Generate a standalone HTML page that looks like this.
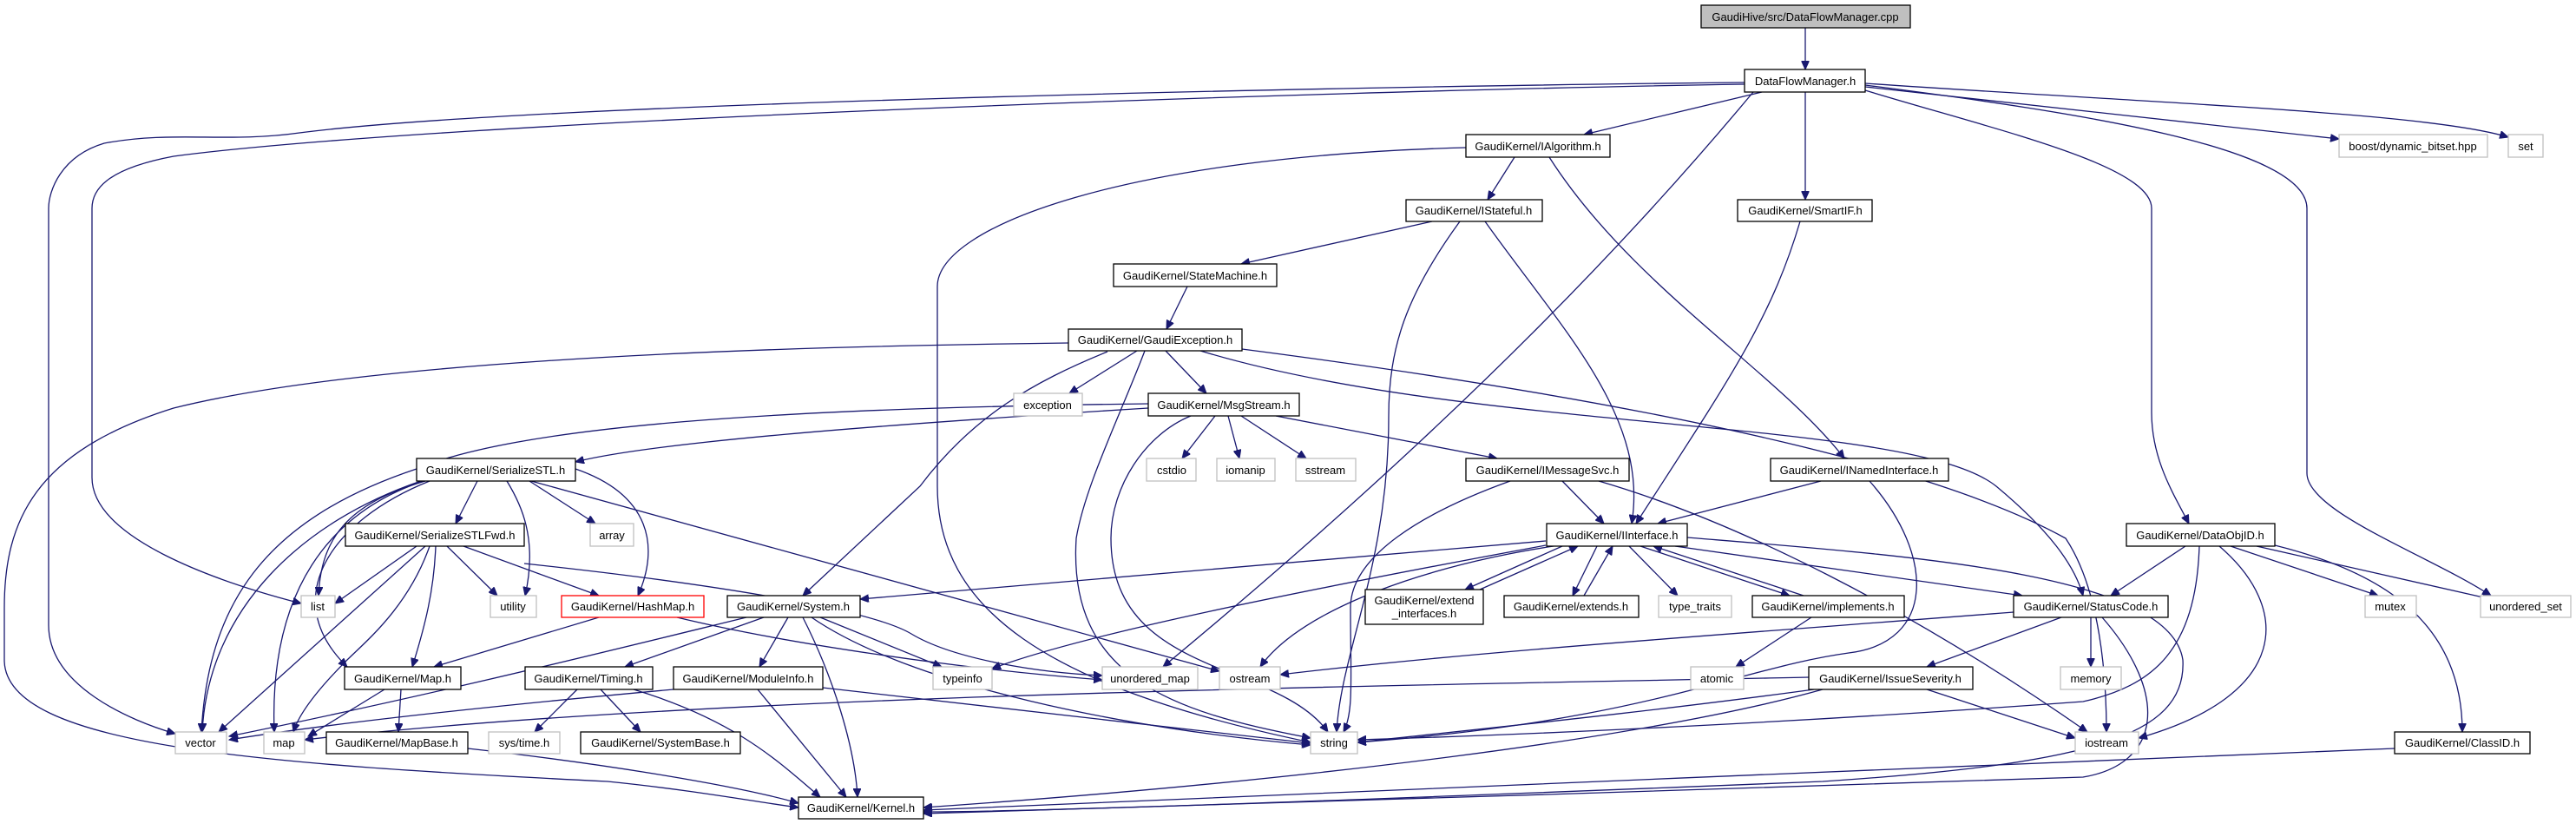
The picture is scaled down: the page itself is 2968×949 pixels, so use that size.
<!DOCTYPE html>
<html><head><meta charset="utf-8"><style>
html,body{margin:0;padding:0;background:#fff;}
svg{display:block;}
text{font-family:"Liberation Sans",Arial,sans-serif;font-size:13px;fill:#000;}
.n{fill:#fff;stroke:#000;stroke-width:1.3;}
.x{fill:#fff;stroke:#bfbfbf;stroke-width:1.3;}
.e path{fill:none;stroke:#191970;stroke-width:1.3;marker-end:url(#a);}
</style></head><body>
<svg width="2968" height="949" viewBox="0 0 2968 949" xmlns="http://www.w3.org/2000/svg">
<defs><marker id="a" markerUnits="userSpaceOnUse" markerWidth="11" markerHeight="9" refX="10" refY="4.5" orient="auto"><path d="M0,0 L10,4.5 L0,9 z" fill="#191970" stroke="#191970"/></marker></defs>
<g class="e">
<path d="M2080,32 L2080,80"/>
<path d="M2030,106 L1825,155"/>
<path d="M2080,106 L2080,230"/>
<path d="M2149,104 C2300,150 2479,190 2479,240 L2479,475 C2479,530 2505,570 2522,603"/>
<path d="M2149,100 L2695,160"/>
<path d="M2149,96 C2500,120 2800,130 2890,158"/>
<path d="M2149,98 C2400,130 2658,170 2658,240 L2658,545 C2658,590 2800,640 2870,686"/>
<path d="M2020,106 C1900,250 1700,470 1340,768"/>
<path d="M2010,95 C1500,100 600,120 345,153 C260,165 200,150 120,165 C70,180 56,220 56,240 L56,720 C56,790 150,830 202,845"/>
<path d="M2010,97 C1500,105 500,140 200,180 C120,195 106,220 106,240 L106,550 C106,620 250,670 347,695"/>
<path d="M1745,181 L1714,230"/>
<path d="M1785,181 C1880,330 2050,430 2125,528"/>
<path d="M1689,170 C1300,180 1080,260 1080,330 L1080,560 C1080,700 1200,790 1510,855"/>
<path d="M1711,255 C1800,380 1900,480 1880,603"/>
<path d="M2074,255 C2040,370 1990,440 1885,603"/>
<path d="M1650,255 L1430,304"/>
<path d="M1682,255 C1620,340 1600,400 1600,480 C1600,650 1545,750 1540,843"/>
<path d="M1368,330 L1344,379"/>
<path d="M1310,404 L1232,453"/>
<path d="M1343,404 L1390,453"/>
<path d="M1276,405 C1190,440 1120,480 1060,560 L925,686"/>
<path d="M1383,404 C1700,500 2200,480 2300,560 C2360,610 2390,650 2400,686"/>
<path d="M1431,402 C1800,450 2200,520 2380,620 C2420,680 2427,780 2427,843"/>
<path d="M1319,404 C1290,480 1250,560 1240,620 C1230,780 1350,820 1510,850"/>
<path d="M1231,395 C800,400 400,420 200,470 C40,520 5,600 5,700 L5,760 C5,860 300,880 700,900 C800,910 880,925 920,930"/>
<path d="M1323,470 C1000,490 750,510 663,532"/>
<path d="M1400,479 L1362,528"/>
<path d="M1415,479 L1428,528"/>
<path d="M1430,479 L1505,528"/>
<path d="M1470,479 L1725,528"/>
<path d="M1372,479 C1320,500 1280,560 1280,620 C1280,780 1470,760 1530,843"/>
<path d="M1323,465 C900,470 600,490 480,540 C300,600 240,700 232,843"/>
<path d="M1800,554 L1848,603"/>
<path d="M1740,554 C1640,590 1556,640 1556,700 C1556,780 1560,820 1548,843"/>
<path d="M1842,554 C2000,600 2200,700 2405,843"/>
<path d="M2098,554 L1910,603"/>
<path d="M2154,554 C2230,640 2230,740 2130,752 C2000,770 1900,830 1564,855"/>
<path d="M1781,623 L991,690"/>
<path d="M1781,628 C1500,680 1250,730 1143,770"/>
<path d="M1790,629 C1650,650 1500,700 1452,768"/>
<path d="M1800,629 L1688,679"/>
<path d="M1705,679 L1818,629"/>
<path d="M1840,629 L1812,686"/>
<path d="M1825,686 L1858,629"/>
<path d="M1877,629 L1933,686"/>
<path d="M1890,629 L2062,686"/>
<path d="M2078,686 L1905,629"/>
<path d="M1930,629 L2330,686"/>
<path d="M1944,619 C2200,640 2500,660 2515,760 C2520,850 2400,880 2100,900 C1600,920 1200,935 1064,935"/>
<path d="M550,554 L525,603"/>
<path d="M610,554 L686,603"/>
<path d="M663,540 C750,570 760,630 735,686"/>
<path d="M612,554 L1405,773"/>
<path d="M584,554 C600,580 620,620 605,686"/>
<path d="M490,554 C400,580 370,620 367,686"/>
<path d="M485,554 C350,600 240,700 233,843"/>
<path d="M488,554 C380,590 310,680 316,843"/>
<path d="M495,554 C380,600 320,690 400,768"/>
<path d="M480,629 L386,695"/>
<path d="M515,629 L573,686"/>
<path d="M490,629 L252,843"/>
<path d="M495,629 C470,700 420,740 400,760 C370,790 345,820 338,843"/>
<path d="M502,629 C500,680 490,720 475,768"/>
<path d="M534,629 L690,686"/>
<path d="M604,649 C800,670 1000,700 1050,730 C1100,760 1200,775 1270,778"/>
<path d="M690,711 L500,768"/>
<path d="M780,711 C900,740 1100,770 1270,783"/>
<path d="M443,794 L355,848"/>
<path d="M462,794 L459,843"/>
<path d="M539,862 C700,880 850,905 920,925"/>
<path d="M880,711 L720,768"/>
<path d="M908,711 L875,768"/>
<path d="M945,711 L1085,768"/>
<path d="M935,711 C1050,790 1300,840 1510,858"/>
<path d="M925,711 C960,780 985,860 988,918"/>
<path d="M860,711 C700,750 500,800 264,848"/>
<path d="M665,794 L616,843"/>
<path d="M692,794 L738,843"/>
<path d="M730,794 C850,830 900,880 945,918"/>
<path d="M948,792 C1200,820 1400,845 1510,856"/>
<path d="M873,794 L975,918"/>
<path d="M776,794 C600,810 400,830 264,852"/>
<path d="M2375,711 L2220,768"/>
<path d="M2409,711 L2409,768"/>
<path d="M2320,705 C2000,730 1700,750 1475,777"/>
<path d="M2422,711 C2500,800 2490,880 2400,895 C2000,910 1400,925 1064,937"/>
<path d="M2090,794 C1900,820 1700,840 1564,855"/>
<path d="M2084,780 C1600,790 800,800 351,852"/>
<path d="M2220,794 L2391,850"/>
<path d="M2100,794 C1900,850 1500,900 1064,930"/>
<path d="M2087,711 L2000,768"/>
<path d="M2518,629 L2432,686"/>
<path d="M2570,629 L2740,686"/>
<path d="M2600,629 L2870,690"/>
<path d="M2621,628 C2750,660 2837,720 2837,843"/>
<path d="M2557,629 C2640,700 2640,800 2464,850"/>
<path d="M2534,629 C2530,750 2480,790 2400,808 C2100,830 1800,845 1564,852"/>
<path d="M2759,862 C2300,880 1500,915 1064,933"/>
</g>
<g>
<rect x="1960" y="6" width="241" height="26" fill="#bfbfbf" stroke="#000" stroke-width="1.3"/><text x="2080" y="24" text-anchor="middle">GaudiHive/src/DataFlowManager.cpp</text>
<rect class="n" x="2010" y="80" width="139" height="26"/><text x="2080" y="98" text-anchor="middle">DataFlowManager.h</text>
<rect class="n" x="1689" y="155" width="166" height="26"/><text x="1772" y="173" text-anchor="middle">GaudiKernel/IAlgorithm.h</text>
<rect class="x" x="2695" y="155" width="171" height="26"/><text x="2780" y="173" text-anchor="middle">boost/dynamic_bitset.hpp</text>
<rect class="x" x="2890" y="155" width="40" height="26"/><text x="2910" y="173" text-anchor="middle">set</text>
<rect class="n" x="1620" y="230" width="157" height="25"/><text x="1698" y="247" text-anchor="middle">GaudiKernel/IStateful.h</text>
<rect class="n" x="2002" y="230" width="155" height="25"/><text x="2080" y="247" text-anchor="middle">GaudiKernel/SmartIF.h</text>
<rect class="n" x="1283" y="304" width="188" height="26"/><text x="1377" y="322" text-anchor="middle">GaudiKernel/StateMachine.h</text>
<rect class="n" x="1231" y="379" width="200" height="25"/><text x="1331" y="396" text-anchor="middle">GaudiKernel/GaudiException.h</text>
<rect class="x" x="1168" y="453" width="79" height="26"/><text x="1207" y="471" text-anchor="middle">exception</text>
<rect class="n" x="1323" y="453" width="174" height="26"/><text x="1410" y="471" text-anchor="middle">GaudiKernel/MsgStream.h</text>
<rect class="n" x="480" y="528" width="183" height="26"/><text x="571" y="546" text-anchor="middle">GaudiKernel/SerializeSTL.h</text>
<rect class="x" x="1321" y="528" width="57" height="26"/><text x="1350" y="546" text-anchor="middle">cstdio</text>
<rect class="x" x="1402" y="528" width="67" height="26"/><text x="1435" y="546" text-anchor="middle">iomanip</text>
<rect class="x" x="1493" y="528" width="69" height="26"/><text x="1527" y="546" text-anchor="middle">sstream</text>
<rect class="n" x="1689" y="528" width="188" height="26"/><text x="1783" y="546" text-anchor="middle">GaudiKernel/IMessageSvc.h</text>
<rect class="n" x="2040" y="528" width="205" height="26"/><text x="2142" y="546" text-anchor="middle">GaudiKernel/INamedInterface.h</text>
<rect class="n" x="398" y="603" width="206" height="26"/><text x="501" y="621" text-anchor="middle">GaudiKernel/SerializeSTLFwd.h</text>
<rect class="x" x="680" y="603" width="50" height="26"/><text x="705" y="621" text-anchor="middle">array</text>
<rect class="n" x="1782" y="603" width="162" height="26"/><text x="1863" y="621" text-anchor="middle">GaudiKernel/IInterface.h</text>
<rect class="n" x="2450" y="603" width="171" height="26"/><text x="2535" y="621" text-anchor="middle">GaudiKernel/DataObjID.h</text>
<rect class="x" x="347" y="686" width="39" height="25"/><text x="366" y="703" text-anchor="middle">list</text>
<rect class="x" x="565" y="686" width="53" height="25"/><text x="591" y="703" text-anchor="middle">utility</text>
<rect x="647" y="686" width="164" height="25" fill="#fff" stroke="#ff0000" stroke-width="1.3"/><text x="729" y="703" text-anchor="middle">GaudiKernel/HashMap.h</text>
<rect class="n" x="838" y="686" width="153" height="25"/><text x="914" y="703" text-anchor="middle">GaudiKernel/System.h</text>
<rect class="n" x="1573" y="679" width="136" height="40"/><text x="1641" y="696" text-anchor="middle">GaudiKernel/extend</text><text x="1641" y="711" text-anchor="middle">_interfaces.h</text>
<rect class="n" x="1733" y="686" width="155" height="25"/><text x="1810" y="703" text-anchor="middle">GaudiKernel/extends.h</text>
<rect class="x" x="1911" y="686" width="84" height="25"/><text x="1953" y="703" text-anchor="middle">type_traits</text>
<rect class="n" x="2019" y="686" width="175" height="25"/><text x="2106" y="703" text-anchor="middle">GaudiKernel/implements.h</text>
<rect class="n" x="2320" y="686" width="178" height="25"/><text x="2409" y="703" text-anchor="middle">GaudiKernel/StatusCode.h</text>
<rect class="x" x="2725" y="686" width="59" height="25"/><text x="2754" y="703" text-anchor="middle">mutex</text>
<rect class="x" x="2858" y="686" width="104" height="25"/><text x="2910" y="703" text-anchor="middle">unordered_set</text>
<rect class="n" x="397" y="768" width="134" height="26"/><text x="464" y="786" text-anchor="middle">GaudiKernel/Map.h</text>
<rect class="n" x="605" y="768" width="147" height="26"/><text x="678" y="786" text-anchor="middle">GaudiKernel/Timing.h</text>
<rect class="n" x="776" y="768" width="172" height="26"/><text x="862" y="786" text-anchor="middle">GaudiKernel/ModuleInfo.h</text>
<rect class="x" x="1075" y="768" width="68" height="26"/><text x="1109" y="786" text-anchor="middle">typeinfo</text>
<rect class="x" x="1270" y="768" width="110" height="26"/><text x="1325" y="786" text-anchor="middle">unordered_map</text>
<rect class="x" x="1405" y="768" width="70" height="26"/><text x="1440" y="786" text-anchor="middle">ostream</text>
<rect class="x" x="1948" y="768" width="61" height="26"/><text x="1978" y="786" text-anchor="middle">atomic</text>
<rect class="n" x="2084" y="768" width="189" height="26"/><text x="2178" y="786" text-anchor="middle">GaudiKernel/IssueSeverity.h</text>
<rect class="x" x="2374" y="768" width="70" height="26"/><text x="2409" y="786" text-anchor="middle">memory</text>
<rect class="x" x="202" y="843" width="59" height="25"/><text x="231" y="860" text-anchor="middle">vector</text>
<rect class="x" x="304" y="843" width="47" height="25"/><text x="327" y="860" text-anchor="middle">map</text>
<rect class="n" x="376" y="843" width="163" height="25"/><text x="457" y="860" text-anchor="middle">GaudiKernel/MapBase.h</text>
<rect class="x" x="563" y="843" width="82" height="25"/><text x="604" y="860" text-anchor="middle">sys/time.h</text>
<rect class="n" x="669" y="843" width="184" height="25"/><text x="761" y="860" text-anchor="middle">GaudiKernel/SystemBase.h</text>
<rect class="x" x="1510" y="843" width="54" height="25"/><text x="1537" y="860" text-anchor="middle">string</text>
<rect class="x" x="2391" y="843" width="73" height="25"/><text x="2427" y="860" text-anchor="middle">iostream</text>
<rect class="n" x="2759" y="843" width="156" height="25"/><text x="2837" y="860" text-anchor="middle">GaudiKernel/ClassID.h</text>
<rect class="n" x="920" y="918" width="144" height="25"/><text x="992" y="935" text-anchor="middle">GaudiKernel/Kernel.h</text>
</g>
</svg>
</body></html>
